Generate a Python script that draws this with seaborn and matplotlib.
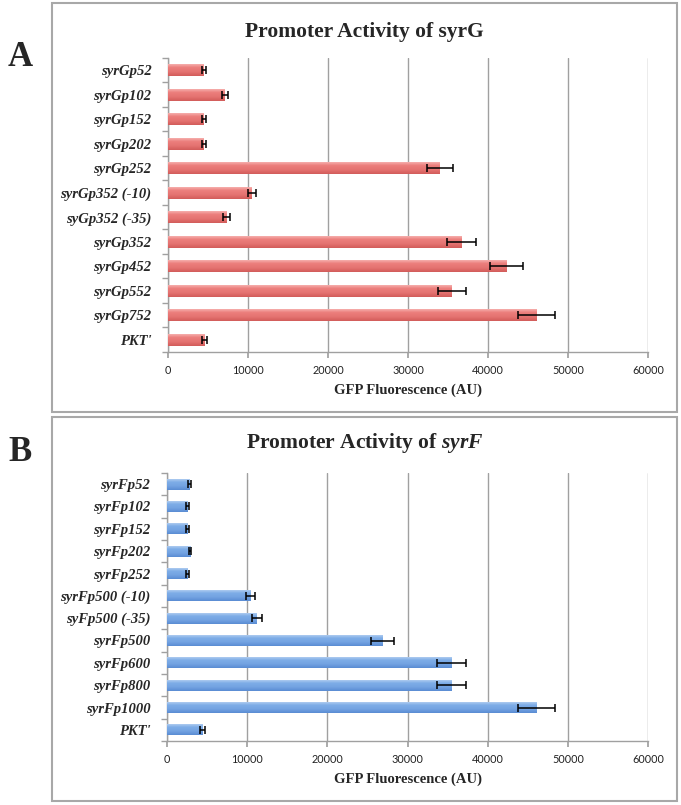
import numpy as np
import pandas as pd
import matplotlib
matplotlib.use("Agg")
import matplotlib.pyplot as plt
import seaborn as sns
from matplotlib.patches import Rectangle
from matplotlib.colors import LinearSegmentedColormap

# data
syrg_labels = ["syrGp52", "syrGp102", "syrGp152", "syrGp202", "syrGp252",
               "syrGp352 (-10)", "syGp352 (-35)", "syrGp352", "syrGp452",
               "syrGp552", "syrGp752", "PKT'"]
syrg_values = [4500, 7100, 4500, 4500, 34000, 10500, 7300, 36700, 42300, 35500, 46100, 4600]
syrg_errors = [250, 400, 250, 250, 1600, 550, 400, 1800, 2100, 1800, 2300, 300]

syrf_labels = ["syrFp52", "syrFp102", "syrFp152", "syrFp202", "syrFp252",
               "syrFp500 (-10)", "syFp500 (-35)", "syrFp500", "syrFp600",
               "syrFp800", "syrFp1000", "PKT'"]
syrf_values = [2800, 2600, 2600, 2900, 2600, 10400, 11200, 26900, 35500, 35500, 46100, 4400]
syrf_errors = [200, 200, 200, 120, 200, 550, 600, 1400, 1850, 1850, 2300, 300]

x_ticks = [0, 10000, 20000, 30000, 40000, 50000, 60000]

# excel-ish shaded bar fills (top highlight -> body -> darker bottom)
red_shades = ['#F8BDBB', '#EC7F7D', '#E57371', '#D25C5A']
blue_shades = ['#BCD5F3', '#7EADE7', '#73A3E2', '#5A8CD3']

sns.set_theme(style="white")
plt.rcParams['font.family'] = ['Liberation Serif', 'DejaVu Serif']
plt.rcParams['mathtext.fontset'] = 'custom'
plt.rcParams['mathtext.rm'] = 'Liberation Serif:bold'
plt.rcParams['mathtext.bfit'] = 'Liberation Serif:bold:italic'

W, H = 681, 805
fig = plt.figure(figsize=(W / 100, H / 100), dpi=100)


def fx(px):
    return px / W


def fy(py):
    return 1 - py / H


def shade_bars(ax, shades):
    cmap = LinearSegmentedColormap.from_list('bar', shades)
    grad = np.linspace(0, 1, 64).reshape(-1, 1)
    for p in ax.patches:
        x, y, w, h = p.get_x(), p.get_y(), p.get_width(), p.get_height()
        # y axis is inverted by seaborn, so the top of the bar is y
        im = ax.imshow(grad, cmap=cmap, aspect='auto', interpolation='bilinear',
                       extent=(x, x + w, y + h, y), origin='upper', zorder=3)
        im.set_clip_path(p)
        p.set_alpha(0)


def panel(box, ax_rect, labels, values, errors, shades, title, letter, letter_y, title_y):
    # grey frame around each panel
    x0, y0, x1, y1 = box
    fig.patches.append(Rectangle((fx(x0), fy(y1)), fx(x1) - fx(x0), fy(y0) - fy(y1),
                                 transform=fig.transFigure, fill=False,
                                 edgecolor='#A8A8A8', linewidth=1.5))
    fig.text(fx(20), fy(letter_y), letter, fontsize=25, fontweight='bold',
             ha='center', va='center')
    fig.text(fx((x0 + x1) / 2), fy(title_y), title, fontsize=15.5, fontweight='bold',
             ha='center', va='center')

    l, t, r, b = ax_rect
    ax = fig.add_axes([fx(l), fy(b), fx(r) - fx(l), fy(t) - fy(b)])
    df = pd.DataFrame({'label': labels, 'value': values})
    sns.barplot(data=df, x='value', y='label', orient='h', color=shades[1],
                width=0.5, saturation=1, ax=ax, errorbar=None, zorder=3)
    ylim = ax.get_ylim()
    shade_bars(ax, shades)
    ax.errorbar(values, np.arange(len(labels)), xerr=errors, fmt='none',
                ecolor='black', elinewidth=1.1, capsize=3.2, capthick=1.1, zorder=4)

    ax.set_xlim(0, 60000)
    ax.set_ylim(ylim)
    ax.set_xticks(x_ticks)
    ax.set_xticklabels([str(v) for v in x_ticks], family='Lato', fontsize=7.8)
    ax.xaxis.grid(True, color='#A0A0A0', linewidth=1.0, zorder=0)
    ax.set_axisbelow(True)
    for s in ['top', 'right']:
        ax.spines[s].set_visible(False)
    for s in ['left', 'bottom']:
        ax.spines[s].set_color('#A0A0A0')
        ax.spines[s].set_linewidth(1.0)

    ax.set_yticks(np.arange(len(labels)))
    ax.set_yticklabels(labels, fontsize=10.5, fontweight='bold', fontstyle='italic')
    ax.set_yticks(np.arange(len(labels) + 1) - 0.5, minor=True)
    ax.tick_params(axis='y', which='major', length=0, pad=12)
    ax.tick_params(axis='y', which='minor', left=True, length=4, color='#A0A0A0')
    ax.tick_params(axis='x', which='major', bottom=True, length=4, color='#A0A0A0',
                   pad=5, labelcolor='#222222')
    ax.set_ylabel('')
    ax.set_xlabel('GFP Fluorescence (AU)', fontsize=10.5, fontweight='bold', labelpad=6)
    return ax


panel((52, 3, 677, 412), (168, 58, 648, 352), syrg_labels, syrg_values, syrg_errors,
      red_shades, 'Promoter Activity of syrG', 'A', 58, 32)
panel((52, 417, 677, 801), (167, 473, 648, 741), syrf_labels, syrf_values, syrf_errors,
      blue_shades, r'Promoter Activity of $\mathbfit{syrF}$', 'B', 452, 443)

fig.savefig('out.png', dpi=100)
